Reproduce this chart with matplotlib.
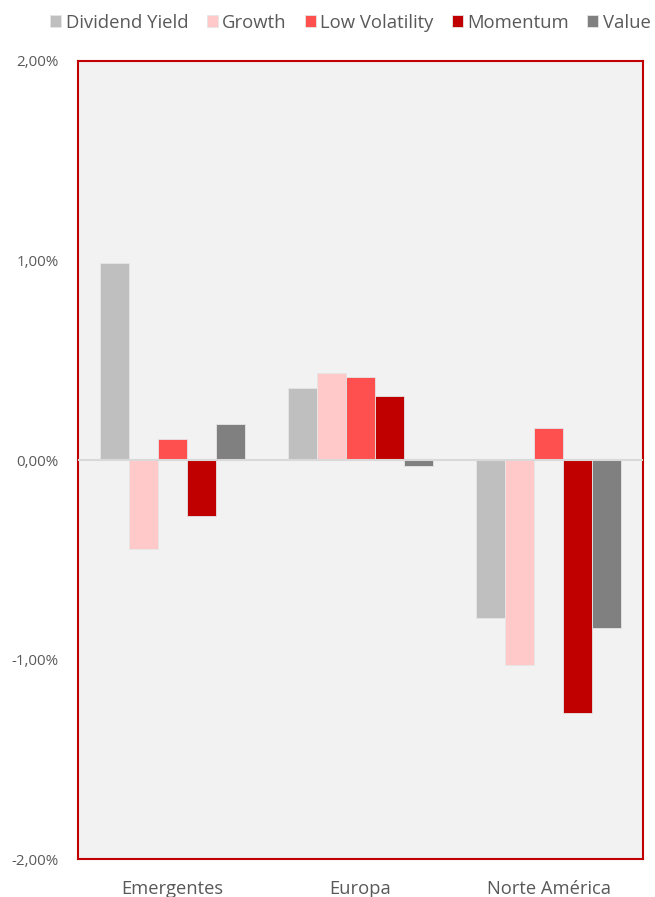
import matplotlib
matplotlib.use("Agg")
import matplotlib.pyplot as plt
import numpy as np
from matplotlib.ticker import FuncFormatter

plt.rcParams['font.family'] = ['Open Sans', 'DejaVu Sans']

categories = ["Emergentes", "Europa", "Norte América"]
series_names = ["Dividend Yield", "Growth", "Low Volatility", "Momentum", "Value"]
dividend_yield = [0.985, 0.363, -0.79]
growth = [-0.445, 0.435, -1.03]
low_volatility = [0.105, 0.418, 0.16]
momentum = [-0.28, 0.32, -1.27]
value = [0.178, -0.03, -0.84]
colors = ["#BFBFBF", "#FFC9C9", "#FF5050", "#C00000", "#808080"]

data = [dividend_yield, growth, low_volatility, momentum, value]

fig = plt.figure(figsize=(6.55, 8.97), dpi=100)
ax = fig.add_axes([78/655, 1-859/897, (643-78)/655, (859-61)/897])
ax.set_facecolor("#F2F2F2")

x = np.arange(len(categories))
w = 0.154
for i, (vals, c, name) in enumerate(zip(data, colors, series_names)):
    ax.bar(x + (i-2)*w, vals, width=w, color=c, edgecolor="#E6E6E6", linewidth=0.6, label=name, zorder=3)

ax.axhline(0, color="#D9D9D9", linewidth=1.5, zorder=4)
ax.set_xlim(-0.5, 2.5)
ax.set_ylim(-2, 2)
ax.set_yticks([-2, -1, 0, 1, 2])
ax.yaxis.set_major_formatter(FuncFormatter(lambda v, p: f"{v:.2f}%".replace(".", ",")))
ax.set_xticks(x)
ax.set_xticklabels(categories)
ax.tick_params(axis='both', length=0, colors="#595959")
ax.tick_params(axis='y', labelsize=10.9, pad=14)
ax.tick_params(axis='x', labelsize=13.2, pad=15)
for s in ax.spines.values():
    s.set_color("#C00000")
    s.set_linewidth(1.5)

leg = fig.legend(loc='upper center', bbox_to_anchor=(0.535, 1.0), ncol=5, frameon=False,
                 fontsize=13.3, handlelength=0.6, handleheight=0.6, handletextpad=0.25,
                 columnspacing=0.97, labelcolor="#595959", borderaxespad=0.35)

fig.savefig("out.png", dpi=100)
